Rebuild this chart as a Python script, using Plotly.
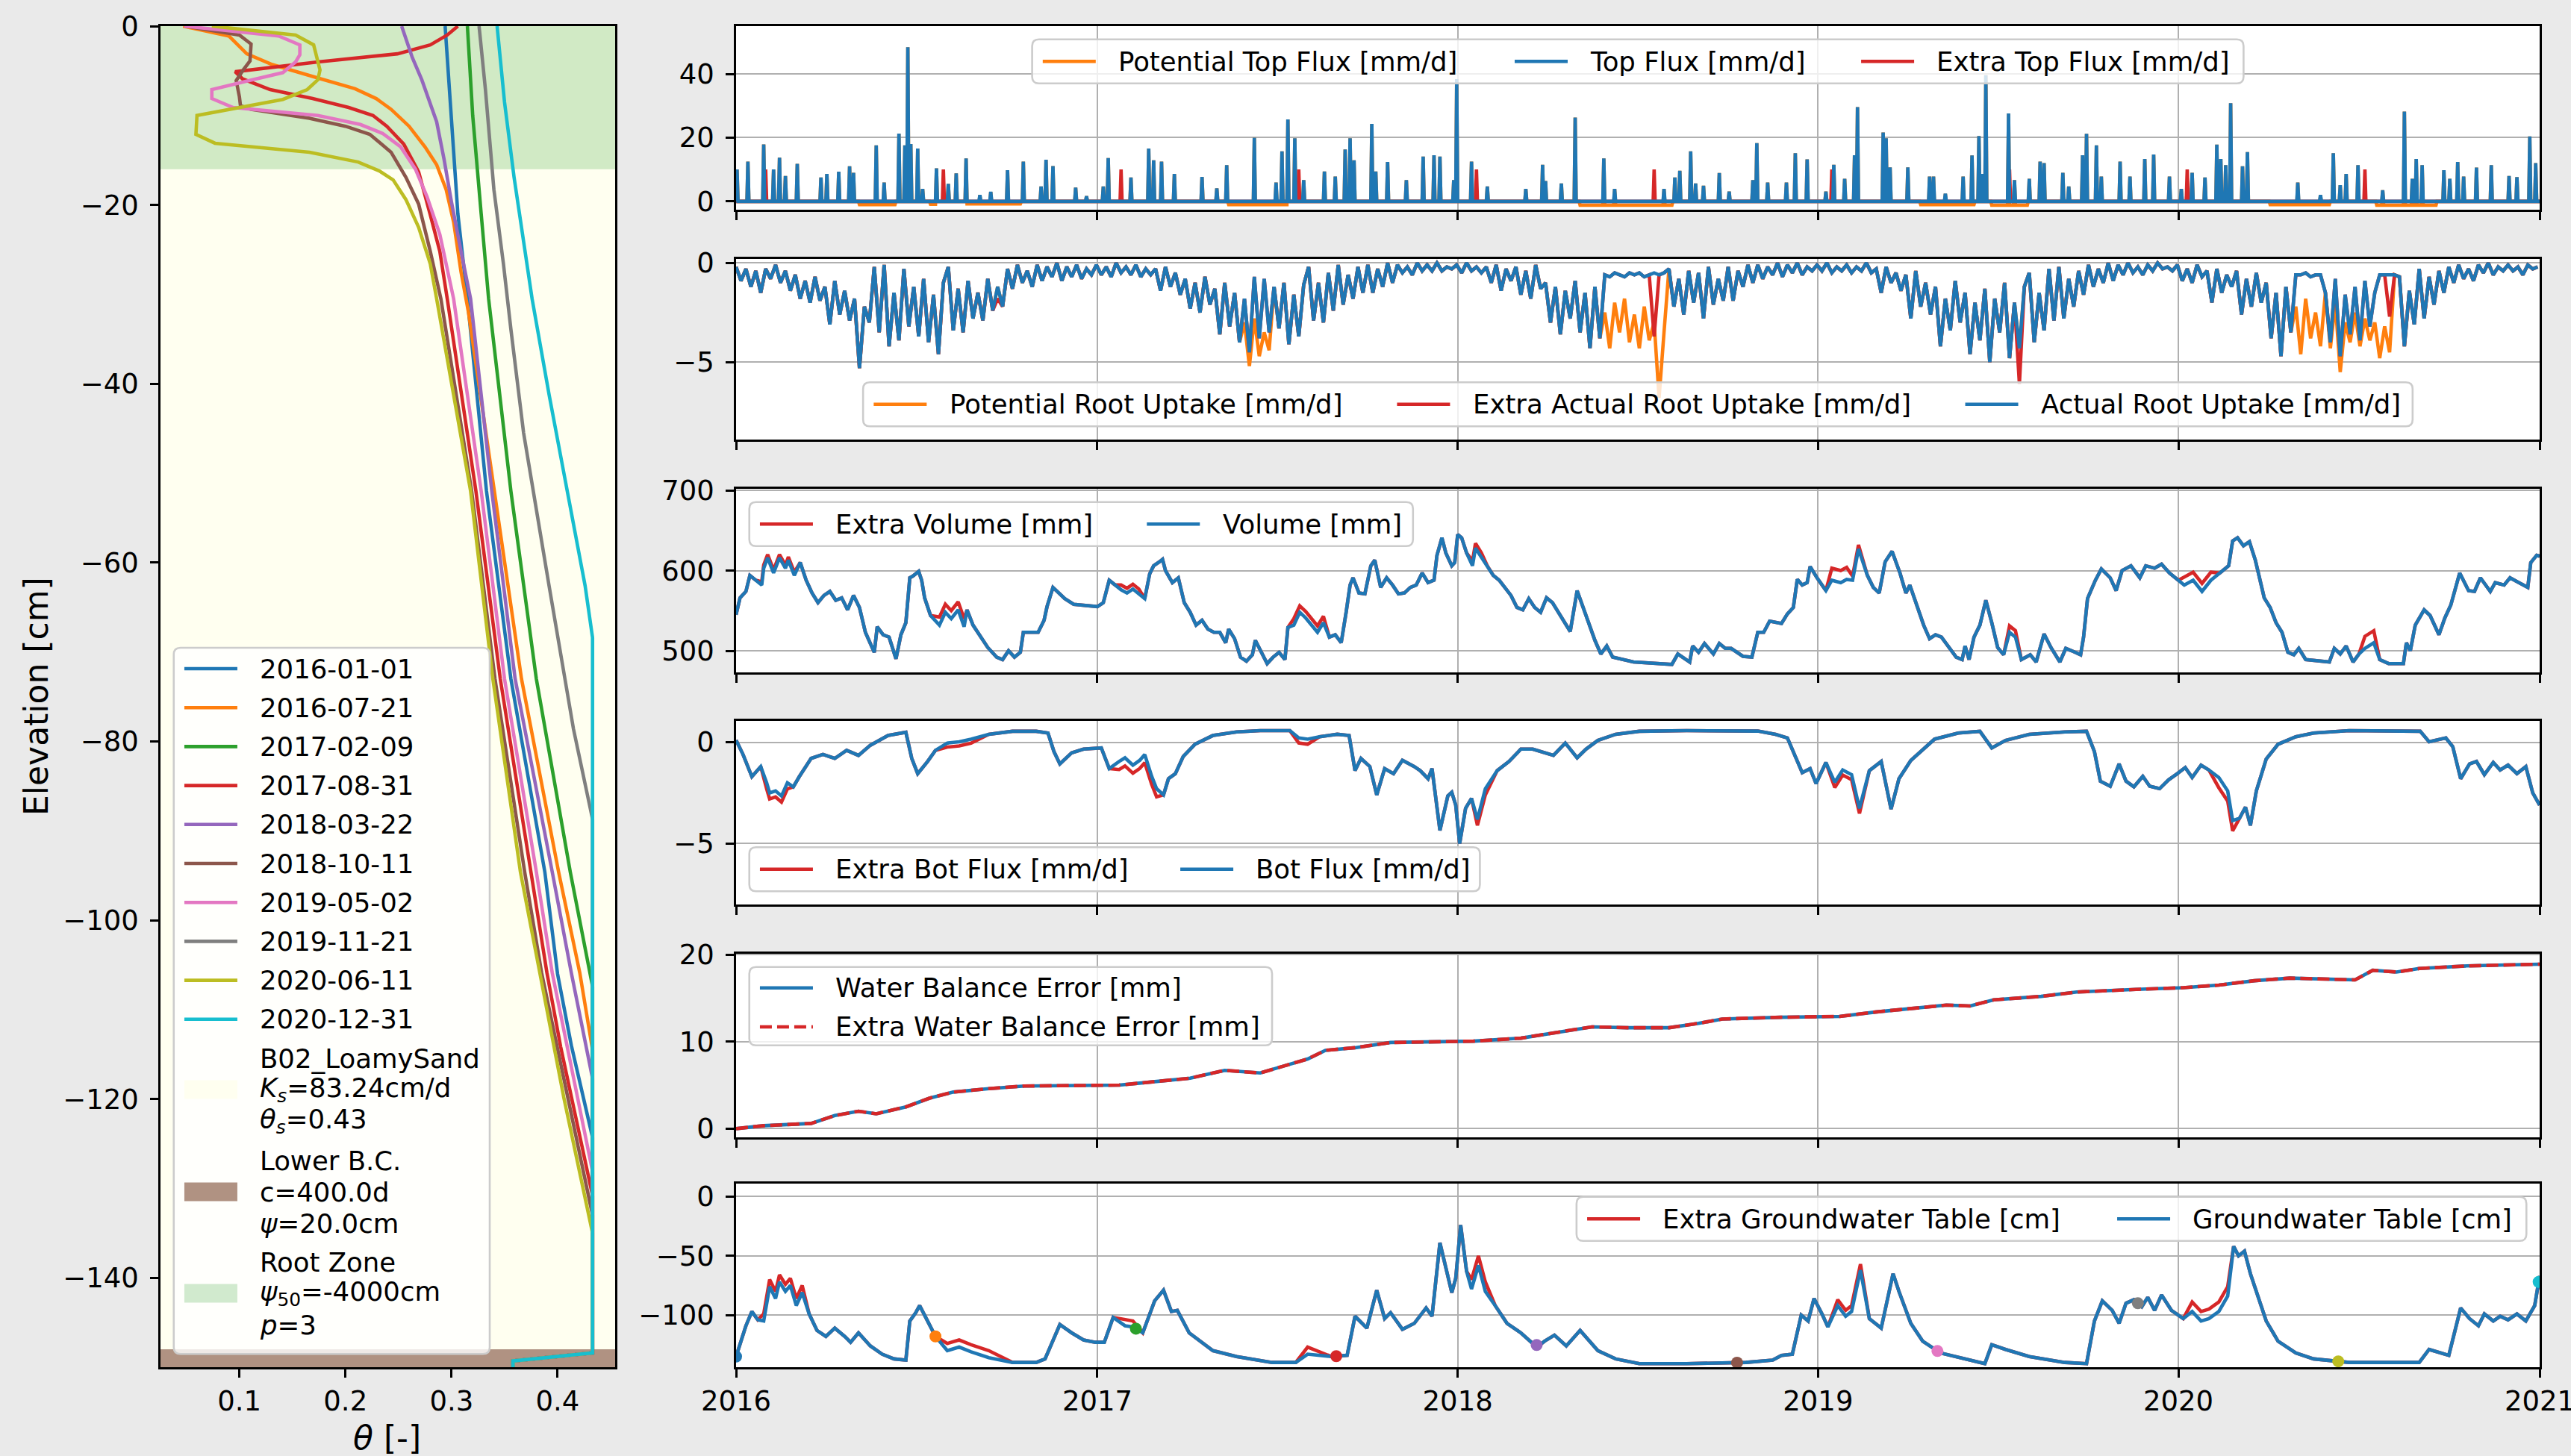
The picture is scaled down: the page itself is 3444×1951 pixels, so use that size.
import numpy as np
import pandas as pd
import plotly.graph_objects as go

START = pd.Timestamp("2016-01-01")
END = pd.Timestamp("2021-01-01")
N_DAYS = (END - START).days + 1

BLUE, ORANGE, GREEN, RED, PURPLE = "#1f77b4", "#ff7f0e", "#2ca02c", "#d62728", "#9467bd"
BROWN, PINK, GRAY, OLIVE, CYAN = "#8c564b", "#e377c2", "#7f7f7f", "#bcbd22", "#17becf"

# ---------------------------------------------------------------- profiles
profile_dates = ["2016-01-01", "2016-07-21", "2017-02-09", "2017-08-31", "2018-03-22",
                 "2018-10-11", "2019-05-02", "2019-11-21", "2020-06-11", "2020-12-31"]
profile_colors = [BLUE, ORANGE, GREEN, RED, PURPLE, BROWN, PINK, GRAY, OLIVE, CYAN]

z_2016_01_01 = [0, -10, -21, -30.5, -52, -73, -94.6, -106, -114, -124.3, -148.4, -149.3, -150]
th_2016_01_01 = [0.294, 0.300, 0.306, 0.315, 0.333, 0.356, 0.388, 0.400, 0.413, 0.433, 0.433, 0.358, 0.358]

z_2016_07_21 = [0, -1.1, -3.1, -4.3, -5.9, -7, -8.1, -9.3, -11.2, -13.5, -15.5, -18.3, -21.9, -27.5,
                -32, -52, -73, -94.6, -105.9, -114.5, -148.4, -149.3, -150]
th_2016_07_21 = [0.047, 0.090, 0.107, 0.131, 0.177, 0.209, 0.229, 0.243, 0.260, 0.275, 0.286, 0.295,
                 0.302, 0.309, 0.316, 0.340, 0.366, 0.401, 0.421, 0.433, 0.433, 0.358, 0.358]

z_2017_02_09 = [0, -10, -21, -30.5, -52, -73, -94.6, -107.4, -148.4, -149.3, -150]
th_2017_02_09 = [0.315, 0.320, 0.328, 0.335, 0.356, 0.380, 0.412, 0.433, 0.433, 0.358, 0.358]

z_2017_08_31 = [0, -1, -2.1, -3.1, -4, -5.1, -5.9, -7.1, -8.1, -9.1, -10, -11.2, -13.2, -16.3, -21.1,
                -25.2, -30.5, -52, -73, -94.6, -105.9, -114.2, -130.8, -148.4, -149.3, -150]
th_2017_08_31 = [0.306, 0.296, 0.280, 0.249, 0.174, 0.096, 0.103, 0.129, 0.169, 0.203, 0.226, 0.239,
                 0.255, 0.269, 0.280, 0.289, 0.296, 0.323, 0.346, 0.375, 0.390, 0.403, 0.433, 0.433,
                 0.358, 0.358]

z_2018_03_22 = [0, -3.5, -6, -10.7, -14.9, -19.7, -25.2, -30.5, -52, -73, -94.6, -105.9, -117.7,
                -148.4, -149.3, -150]
th_2018_03_22 = [0.253, 0.263, 0.272, 0.286, 0.293, 0.300, 0.309, 0.318, 0.338, 0.360, 0.395, 0.413,
                 0.433, 0.433, 0.358, 0.358]

z_2018_10_11 = [0, -1, -2, -3.9, -5, -6.1, -7.9, -8.9, -9.3, -10.3, -11.2, -12.1, -14.1, -16.9, -19.9,
                -25.2, -30.5, -52, -73, -94.6, -105.9, -133, -148.4, -149.3, -150]
th_2018_10_11 = [0.049, 0.100, 0.111, 0.110, 0.103, 0.097, 0.100, 0.101, 0.111, 0.166, 0.200, 0.223,
                 0.243, 0.257, 0.269, 0.280, 0.290, 0.319, 0.341, 0.369, 0.385, 0.433, 0.433, 0.358,
                 0.358]

z_2019_05_02 = [0, -1.1, -2.1, -3.2, -4, -5.2, -6.1, -7.1, -8.1, -9.1, -10, -11, -12, -13.5, -16,
                -19.1, -23.3, -30.5, -52, -73, -94.6, -105.9, -128.1, -148.4, -149.3, -150]
th_2019_05_02 = [0.048, 0.137, 0.157, 0.157, 0.153, 0.141, 0.109, 0.074, 0.074, 0.094, 0.174, 0.214,
                 0.235, 0.252, 0.266, 0.277, 0.289, 0.302, 0.328, 0.350, 0.380, 0.395, 0.433, 0.433,
                 0.358, 0.358]

z_2019_11_21 = [0, -7.1, -18.3, -26.6, -33.9, -45.5, -62.6, -78.6, -88.7, -148.4, -149.3, -150]
th_2019_11_21 = [0.326, 0.332, 0.340, 0.349, 0.356, 0.368, 0.392, 0.415, 0.433, 0.433, 0.358, 0.358]

z_2020_06_11 = [0, -1, -2.1, -4.9, -6, -7.1, -8.2, -10, -12.1, -13.1, -14.1, -15.2, -16.2, -17.2,
                -19.4, -22.5, -26.6, -30.5, -52, -73, -94.6, -105.9, -119.9, -135, -148.4, -149.3, -150]
th_2020_06_11 = [0.074, 0.153, 0.170, 0.176, 0.174, 0.164, 0.141, 0.060, 0.059, 0.077, 0.166, 0.212,
                 0.232, 0.245, 0.257, 0.269, 0.280, 0.286, 0.318, 0.339, 0.365, 0.383, 0.406, 0.433,
                 0.433, 0.358, 0.358]

z_2020_12_31 = [0, -8.5, -16.9, -25.2, -30.5, -41.2, -51.9, -62.6, -68.4, -148.4, -149.3, -150]
th_2020_12_31 = [0.343, 0.350, 0.359, 0.369, 0.376, 0.392, 0.409, 0.426, 0.433, 0.433, 0.358, 0.358]

profile_z = [z_2016_01_01, z_2016_07_21, z_2017_02_09, z_2017_08_31, z_2018_03_22,
             z_2018_10_11, z_2019_05_02, z_2019_11_21, z_2020_06_11, z_2020_12_31]
profile_theta = [th_2016_01_01, th_2016_07_21, th_2017_02_09, th_2017_08_31, th_2018_03_22,
                 th_2018_10_11, th_2019_05_02, th_2019_11_21, th_2020_06_11, th_2020_12_31]

soil_top, soil_bottom = 0.0, -150.0
root_zone_bottom = -16.0
lower_bc_top = -148.0
theta_range = [0.0256, 0.4543]

SOIL_LABEL = ["B02_LoamySand", "<i>K<sub>s</sub></i>=83.24cm/d", "<i>θ<sub>s</sub></i>=0.43"]
BC_LABEL = ["Lower B.C.", "c=400.0d", "<i>ψ</i>=20.0cm"]
ROOT_LABEL = ["Root Zone", "<i>ψ</i><sub>50</sub>=-4000cm", "<i>p</i>=3"]
SOIL_COLOR, BC_COLOR, ROOT_COLOR = "#fffff0", "#b09282", "rgba(44,160,44,0.22)"

# ---------------------------------------------------------------- top flux [mm/d]
rain_day = [1, 12, 28, 38, 44, 50, 62, 86, 92, 104, 115, 119, 142, 150, 165, 171, 174, 177, 184, 189,
            203, 215, 223, 233, 247, 258, 275, 291, 309, 314, 321, 344, 355, 372, 377, 400, 418, 423,
            431, 444, 472, 487, 497, 525, 547, 553, 559, 566, 575, 596, 607, 617, 622, 626, 644, 648,
            660, 679, 696, 707, 713, 727, 730, 745, 761, 800, 817, 820, 836, 850, 879, 890,
            940, 951, 956, 967, 972, 980, 996, 1006, 1030, 1034, 1045, 1064, 1073, 1085, 1104, 1112,
            1123, 1133, 1136, 1162, 1165, 1169, 1187, 1209, 1213, 1225, 1243, 1252, 1259, 1262, 1266,
            1289, 1295, 1310, 1321, 1325, 1344, 1350, 1364, 1368, 1378, 1383, 1402, 1412, 1427, 1436,
            1452, 1464, 1475, 1488, 1500, 1504, 1509, 1514, 1526, 1531, 1582, 1605, 1618, 1625, 1631,
            1643, 1668, 1690, 1698, 1702, 1708, 1730, 1736, 1744, 1750, 1763, 1778, 1796, 1804, 1817,
            1823]
rain_mm = [10, 12.5, 17.9, 10, 13.7, 8, 11.8, 7.5, 8.6, 9.3, 11, 9, 17.6, 5.9, 21.3, 17.6, 48.4, 18,
           16.6, 3.9, 10.4, 5.5, 8.8, 13.5, 2, 3, 9.8, 12.5, 4.7, 13.1, 11.1, 4.3, 1.6, 4.7, 13.6, 7.5,
           16.6, 12.9, 12.5, 8.6, 7.7, 4.1, 11.4, 20, 5.9, 15.7, 25.7, 19.8, 6.7, 9.4, 7.8, 16.3, 19.8,
           12.9, 24.3, 9.4, 12.4, 6.7, 14.1, 14.5, 14.1, 6.7, 38.4, 12.5, 4.7, 3.9, 11.5, 6.4, 5.6,
           26.3, 13.5, 3.9,
           3.9, 7.5, 9.6, 15.7, 5.6, 4.9, 8.9, 3.1, 6.7, 18.3, 5.9, 5.9, 15.1, 13.2, 3.1, 11.5, 7.1,
           14.5, 29.6, 21.6, 19.8, 10.7, 10.7, 7.8, 7.8, 2.4, 7.8, 14.4, 20.5, 8.6, 39.6, 27.6, 6.7,
           7.1, 12.5, 12, 9, 4.7, 14.5, 21.2, 17.6, 7.8, 12.5, 7.8, 13.3, 14.7, 7.8, 3.9, 9, 7.5, 17.8,
           13.3, 11.4, 30.8, 11, 15.5, 5.9, 2, 15.1, 5.1, 8.6, 11.4, 3.5, 28.2, 7.1, 13.3, 11.4, 9.8,
           7.1, 12.4, 7.8, 10.6, 11.4, 8, 7.6, 20.4, 12]
extra_top_day = [30, 210, 390, 570, 750, 930, 1110, 1290, 1470, 1650]
extra_top_mm = [10, 10, 10, 10, 10, 10, 10, 10, 10, 10]
# dry spells where potential evaporation exceeds the supply: (first day, last day, mm/d)
dry_spells = [(125, 161, 1.0), (197, 203, 0.9), (234, 288, 0.8), (499, 559, 1.0), (855, 948, 1.2),
              (1200, 1254, 1.0), (1272, 1308, 1.2), (1554, 1614, 1.0), (1662, 1722, 1.2)]

# ---------------------------------------------------------------- root uptake [mm/d], 5-day steps
uptake_2016 = [-0.2, -0.9, -0.3, -1.2, -0.4, -1.5, -0.3, -0.8, -0.1, -1.0, -0.4, -1.4,
               -0.6, -1.8, -0.9, -2.0, -0.7, -1.9, -1.2, -3.1, -0.9, -2.6, -1.4, -2.9,
               -1.8, -5.3, -2.2, -3.0, -0.2, -3.5, -0.1, -4.2, -1.5, -3.9, -0.3, -3.2,
               -1.2, -3.7, -0.8, -4.0, -1.6, -4.6, -1.0, -0.2, -3.4, -1.3, -3.5, -0.9, -2.8,
               -1.5, -2.9, -0.8, -2.4, -1.2, -2.2, -0.3, -1.3, -0.1, -1.0, -0.4, -1.2,
               -0.1, -0.9, -0.2, -0.7, 0.0, -0.9, -0.2, -0.7, -0.1, -0.8, -0.3, -0.6]
uptake_2017 = [-0.1, -0.6, -0.2, -0.7, 0.0, -0.5, -0.2, -0.6, -0.1, -0.7, -0.3, -0.6,
               -0.3, -1.4, -0.2, -1.2, -0.5, -1.6, -0.8, -2.3, -1.0, -2.5, -0.7, -2.1,
               -1.3, -3.6, -1.0, -3.2, -1.5, -4.0, -1.8, -4.5, -0.7, -3.8, -0.8, -3.5,
               -1.2, -3.3, -1.0, -4.1, -1.6, -3.7, -1.1, -0.2, -2.9, -1.0, -3.0, -0.5, -2.4,
               -0.1, -2.1, -0.6, -1.8, -0.2, -1.5, -0.1, -1.5, -0.3, -1.2, 0.0, -1.0,
               -0.1, -0.5, -0.2, -0.6, 0.0, -0.4, -0.1, -0.4, 0.0, -0.4, -0.2, -0.3]
uptake_2018 = [-0.1, -0.5, 0.0, -0.4, -0.2, -0.5, -0.2, -1.0, -0.1, -1.4, -0.3, -0.9,
               -0.2, -1.6, -0.4, -1.8, -0.1, -1.3, -1.0, -3.0, -1.2, -3.6, -1.4, -2.8,
               -0.9, -3.5, -1.5, -4.3, -1.2, -3.8, -0.6, -0.7, -0.5, -0.6, -0.7, -0.5,
               -0.6, -0.5, -0.7, -0.6, -0.5, -0.6, -0.5, -0.3, -2.2, -0.8, -2.6, -0.4, -2.0,
               -0.5, -2.8, -0.2, -2.1, -0.8, -1.9, -0.2, -1.9, -0.4, -1.2, -0.1, -1.0,
               -0.1, -0.8, -0.2, -0.6, 0.0, -0.7, -0.1, -0.5, 0.0, -0.6, -0.2, -0.4]
uptake_2019 = [-0.1, -0.4, 0.0, -0.5, -0.2, -0.4, -0.1, -0.5, -0.2, -0.4, 0.0, -0.5,
               -0.3, -1.5, -0.2, -1.0, -0.5, -1.4, -0.6, -2.8, -0.4, -2.2, -1.0, -2.6,
               -1.2, -4.2, -1.8, -3.4, -0.9, -3.0, -1.5, -4.6, -2.0, -3.9, -1.3, -5.0,
               -1.8, -3.5, -1.0, -4.8, -2.0, -4.3, -1.2, -0.5, -4.0, -1.5, -3.4, -0.3, -2.9,
               -0.2, -2.8, -0.8, -2.2, -0.4, -1.6, -0.1, -1.2, -0.3, -1.0, 0.0, -0.9,
               -0.1, -0.6, 0.0, -0.5, -0.2, -0.6, -0.1, -0.4, 0.0, -0.3, -0.2, -0.4]
uptake_2020 = [-0.1, -0.9, -0.3, -1.0, -0.1, -0.7, -0.4, -2.0, -0.3, -1.5, -0.6, -1.2,
               -0.4, -2.6, -0.8, -2.2, -0.5, -2.0, -1.0, -3.8, -1.5, -4.7, -1.2, -3.5,
               -0.6, -0.6, -0.5, -0.7, -0.6, -0.6, -1.5, -4.0, -0.8, -4.7, -1.6, -3.6,
               -1.2, -3.9, -0.9, -3.2, -1.5, -0.6, -0.6, -0.6, -0.6, -0.7, -4.2, -1.4, -3.1,
               -0.3, -2.8, -0.7, -2.1, -0.4, -1.5, -0.2, -1.0, -0.1, -0.8, -0.3, -0.9,
               -0.1, -0.5, 0.0, -0.6, -0.2, -0.4, -0.1, -0.4, -0.2, -0.6, -0.1, -0.3, -0.2]
pot_uptake_day = [515, 520, 525, 530, 535, 540,
                  875, 880, 885, 890, 895, 900, 905, 910, 915, 920, 925, 930, 935, 940,
                  1580, 1585, 1590, 1595, 1600, 1605, 1615, 1620, 1625, 1630, 1635,
                  1640, 1645, 1650, 1655, 1660, 1665, 1670, 1675]
pot_uptake_mm = [-3.0, -5.2, -2.8, -4.7, -3.5, -4.4,
                 -3.8, -2.5, -4.3, -2.0, -3.5, -1.8, -4.0, -2.6, -4.3, -2.2, -3.9, -3.0, -6.8, -3.5,
                 -2.2, -4.6, -1.8, -3.8, -2.5, -4.2, -4.3, -2.0, -5.5, -3.0, -4.0,
                 -2.5, -4.2, -2.8, -3.9, -3.0, -4.8, -3.2, -4.5]
extra_uptake_day = [265, 930, 1300, 1675]
extra_uptake_mm = [-1.8, -3.7, -6.1, -2.7]

# ---------------------------------------------------------------- storage volume [mm]
vol_day = [0, 4, 10, 14, 20, 26, 28, 32, 38, 44, 50, 53, 59, 65, 71, 77, 83, 89, 95, 101, 107, 113,
           119, 125, 131, 140, 143, 149, 155, 162, 167, 172, 176, 179, 185, 188, 191, 197, 206, 212,
           218, 225, 231, 234, 240, 246, 255, 264, 270, 276, 282, 288, 291, 300, 306, 312, 315, 321,
           327, 333, 342, 354, 366, 372, 378, 384, 390, 396, 402, 408, 414, 419, 423, 429, 432, 435,
           442, 448, 454, 460, 466, 472, 478, 484, 490, 496, 499, 505, 511, 517, 523, 526, 532, 538,
           544, 550, 556, 559, 565, 571, 577, 583, 589, 595, 601, 607, 613, 618, 622, 625, 631, 637,
           643, 647, 653, 659, 665, 671, 677, 683, 689, 695, 701, 707, 710, 715, 719, 725, 728, 731,
           735, 740, 746, 749, 755, 761, 767, 773, 779, 785, 791, 797, 803, 809, 815, 821, 827, 833,
           839, 845, 852, 858, 864, 870, 876, 882, 888, 897, 909,
           948, 954, 966, 969, 975, 981, 990, 996, 1002, 1008, 1020, 1029, 1035, 1041, 1047, 1059,
           1065, 1071, 1075, 1080, 1085, 1088, 1095, 1104, 1110, 1119, 1125, 1131, 1137, 1146, 1152,
           1158, 1164, 1171, 1179, 1185, 1189, 1197, 1203, 1209, 1215, 1221, 1230, 1236, 1242, 1245,
           1249, 1254, 1260, 1266, 1272, 1278, 1284, 1290, 1296, 1302, 1311, 1317, 1325, 1332, 1341,
           1347, 1353, 1362, 1365, 1369, 1377, 1383, 1392, 1398, 1404, 1413, 1422, 1428, 1437, 1444,
           1452, 1461, 1467, 1476, 1485, 1494, 1503, 1512, 1516, 1521, 1527, 1533, 1539, 1548, 1554,
           1560, 1566, 1572, 1578, 1583, 1590, 1602, 1614, 1619, 1625, 1631, 1638, 1644, 1650, 1659,
           1665, 1674, 1689, 1692, 1696, 1701, 1710, 1716, 1725, 1731, 1737, 1746, 1755, 1761, 1767,
           1777, 1782, 1791, 1797, 1806, 1815, 1818, 1824, 1827]
vol_mm = [545, 566, 574, 594, 588, 582, 603, 616, 597, 616, 603, 613, 594, 610, 588, 572, 560, 569,
          574, 563, 566, 551, 569, 554, 523, 498, 530, 520, 517, 490, 520, 535, 591, 593, 599, 588,
          566, 544, 532, 548, 540, 551, 530, 551, 532, 520, 504, 492, 489, 500, 492, 498, 523, 523,
          523, 538, 555, 579, 572, 565, 558, 557, 555, 560, 588, 582, 576, 572, 577, 571, 565, 596,
          606, 611, 614, 600, 585, 591, 560, 548, 532, 538, 527, 523, 523, 510, 527, 515, 492, 487,
          495, 513, 498, 484, 492, 498, 489, 529, 532, 548, 541, 532, 523, 535, 517, 520, 510, 548,
          582, 591, 572, 571, 606, 613, 579, 591, 582, 571, 572, 579, 582, 597, 585, 588, 619, 641,
          622, 606, 610, 645, 641, 622, 606, 628, 616, 606, 594, 588, 579, 569, 554, 551, 565, 554,
          548, 566, 560, 548, 538, 524, 575, 554, 532, 513, 496, 506, 492, 489, 486,
          483, 496, 486, 506, 498, 509, 496, 509, 503, 503, 493, 492, 523, 523, 537, 534, 546, 554,
          589, 582, 585, 605, 591, 575, 588, 585, 589, 588, 627, 594, 579, 572, 611, 624, 597, 572,
          582, 554, 532, 515, 520, 517, 501, 492, 489, 506, 489, 517, 532, 563, 535, 504, 495, 523,
          517, 489, 495, 486, 521, 504, 486, 503, 500, 495, 517, 565, 588, 602, 591, 575, 600, 606,
          591, 606, 603, 608, 597, 588, 582, 588, 574, 588, 597, 606, 637, 641, 631, 636, 613, 566,
          554, 535, 523, 498, 495, 503, 489, 487, 486, 503, 496, 506, 486, 496, 503, 510, 489, 484,
          484, 510, 500, 532, 551, 544, 520, 541, 557, 597, 575, 574, 591, 574, 585, 582, 591, 585,
          579, 610, 619, 618]
# periods where the extra run holds more water: (first day, last day, mm above the base run)
vol_extra_shift = [(25, 60, 4), (205, 232, 10), (385, 412, 6), (565, 600, 8), (745, 760, 6),
                   (1108, 1128, 15), (1129, 1145, 5), (1288, 1300, 8), (1465, 1495, 10),
                   (1648, 1662, 15)]

# ---------------------------------------------------------------- bottom flux [mm/d]
bot_day = [0, 7, 16, 25, 31, 34, 40, 46, 52, 58, 64, 76, 88, 100, 112, 124, 136, 154, 172, 178,
           184, 194, 202, 214, 226, 238, 256, 280, 304, 316, 322, 328, 340, 352, 370, 378, 388, 394,
           402, 409, 414, 421, 426, 433, 438, 445, 453, 465, 483, 507, 531, 561, 570, 579, 591, 609,
           621, 627, 633, 642, 649, 657, 666, 675, 687, 693, 701, 705, 713, 721, 725, 729, 733, 739,
           745, 751, 759, 771, 783, 795, 807, 819, 828, 840, 852, 861, 873, 891, 915, 963, 1035,
           1053, 1065, 1073, 1080, 1088, 1094, 1104, 1113, 1121, 1130, 1138, 1148, 1160, 1170, 1178,
           1190, 1214, 1238, 1260, 1272, 1286, 1310, 1346, 1368, 1376, 1382, 1392, 1401, 1408, 1416,
           1425, 1432, 1442, 1451, 1460, 1468, 1475, 1484, 1492, 1502, 1511, 1516, 1523, 1529, 1534,
           1540, 1550, 1562, 1580, 1598, 1634, 1670, 1706, 1715, 1723, 1732, 1739, 1747, 1756, 1763,
           1771, 1780, 1787, 1795, 1804, 1813, 1820, 1827]
bot_mm = [0.1, -0.6, -1.7, -1.2, -2.0, -2.5, -2.4, -2.65, -2.0, -2.2, -1.7, -0.8, -0.6, -0.8, -0.4,
          -0.65, -0.15, 0.33, 0.49, -0.8, -1.55, -0.95, -0.4, -0.04, 0.02, 0.15, 0.39, 0.54, 0.54,
          0.45, -0.46, -1.07, -0.52, -0.34, -0.28, -1.3, -0.95, -0.77, -1.13, -0.89, -0.61, -1.68,
          -2.29, -2.6, -1.8, -1.55, -0.7, -0.1, 0.33, 0.51, 0.57, 0.57, 0.21, 0.15, 0.27, 0.39, 0.33,
          -1.4, -0.8, -1.2, -2.6, -1.3, -1.55, -0.89, -1.2, -1.4, -1.8, -1.3, -4.35, -2.65, -2.47,
          -3.1, -5.0, -3.26, -2.77, -3.8, -2.3, -1.4, -0.95, -0.34, -0.34, -0.52, -0.65, -0.04,
          -0.77, -0.34, 0.09, 0.39, 0.54, 0.57, 0.55, 0.39, 0.21, -0.7, -1.5, -1.3, -2.04, -1.0,
          -1.98, -1.37, -1.6, -3.26, -1.4, -0.95, -3.3, -1.8, -0.9, 0.15, 0.45, 0.54, -0.28, 0.09,
          0.39, 0.51, 0.54, -0.46, -1.92, -2.17, -1.07, -1.92, -2.2, -1.68, -2.17, -2.29, -1.86,
          -1.55, -1.25, -1.74, -1.13, -1.37, -1.74, -2.4, -3.87, -3.75, -3.2, -4.1, -2.4, -0.83,
          -0.1, 0.27, 0.45, 0.57, 0.54, 0.54, 0.02, 0.09, 0.21, -0.22, -1.8, -1.07, -0.95, -1.6,
          -1.0, -1.37, -1.13, -1.55, -1.2, -2.5, -3.1]
bot_extra_shift = [(28, 52, -0.3), (214, 238, -0.2), (388, 426, -0.4), (570, 580, -0.25),
                   (747, 759, -0.3), (1113, 1138, -0.25), (1502, 1520, -0.5)]

# ---------------------------------------------------------------- cumulative water balance error [mm]
wbe_day = [0, 28, 76, 100, 124, 142, 172, 196, 220, 256, 292, 340, 388, 424, 460, 495, 531, 555,
           579, 597, 627, 663, 699, 747, 795, 831, 867, 903, 945, 975, 999, 1058, 1118, 1154, 1190,
           1226, 1250, 1274, 1322, 1358, 1418, 1466, 1502, 1538, 1574, 1610, 1640, 1658, 1682, 1705,
           1753, 1827]
wbe_mm = [0, 0.34, 0.6, 1.5, 2.0, 1.7, 2.5, 3.5, 4.2, 4.6, 4.9, 4.95, 5.0, 5.4, 5.8, 6.7, 6.4, 7.2,
          8.0, 9.0, 9.3, 9.9, 9.95, 10.05, 10.4, 11.0, 11.7, 11.6, 11.6, 12.1, 12.6, 12.8, 12.9, 13.4,
          13.8, 14.2, 14.1, 14.8, 15.2, 15.7, 16.0, 16.2, 16.5, 17.0, 17.3, 17.2, 17.1, 18.2, 18.0,
          18.4, 18.7, 18.9]

# ---------------------------------------------------------------- groundwater table [cm]
gwt_day = [0, 4, 10, 16, 22, 28, 34, 40, 44, 50, 55, 61, 67, 74, 82, 91, 100, 110, 116, 124,
           136, 148, 160, 172, 176, 182, 186, 194, 202, 214, 226, 238, 256, 280, 304, 313, 322, 328,
           340, 352, 364, 373, 382, 394, 402, 412, 424, 433, 441, 447, 459, 483, 507, 543, 567, 579,
           603, 619, 627, 639, 649, 657, 663, 675, 687, 699, 705, 713, 721, 725, 729, 734, 740, 745,
           752, 759, 769, 781, 795, 807, 813, 819, 829, 841, 855, 873, 891, 915, 963, 1023, 1050,
           1059, 1070, 1079, 1086, 1092, 1100, 1106, 1116, 1124, 1130, 1139, 1148, 1160, 1172, 1178,
           1190, 1202, 1220, 1250, 1265, 1272, 1286, 1310, 1346, 1368, 1376, 1384, 1394, 1401, 1408,
           1416, 1424, 1430, 1437, 1444, 1454, 1466, 1475, 1484, 1492, 1502, 1511, 1517, 1522, 1528,
           1534, 1540, 1550, 1562, 1580, 1598, 1634, 1682, 1705, 1715, 1723, 1735, 1747, 1756, 1765,
           1771, 1780, 1787, 1795, 1804, 1813, 1822, 1827]
gwt_cm = [-135, -124, -109, -97, -104, -105, -76, -86, -72, -80, -75, -92, -81, -99, -113, -118,
          -111, -118, -123, -115, -126, -133, -137, -138, -105, -98, -92, -105, -118, -130, -127,
          -131, -136, -140, -140, -137, -120, -108, -115, -121, -123, -123, -102, -109, -110, -115,
          -88, -79, -97, -96, -115, -130, -135, -140, -140, -133, -135, -134, -101, -111, -79, -103,
          -98, -112, -107, -94, -101, -39, -67, -81, -69, -24, -63, -78, -58, -80, -92, -107, -115,
          -124, -126, -122, -117, -126, -113, -130, -137, -141, -141, -140, -138, -134, -133, -100,
          -105, -86, -99, -110, -92, -101, -97, -62, -103, -111, -65, -80, -107, -122, -132, -138,
          -141, -125, -129, -135, -140, -141, -105, -88, -96, -107, -90, -87, -93, -85, -96, -83,
          -96, -103, -97, -105, -103, -97, -84, -42, -50, -46, -65, -80, -105, -122, -132, -137,
          -140, -140, -140, -129, -131, -134, -94, -103, -109, -99, -105, -101, -104, -99, -105,
          -92, -67]
gwt_extra_shift = [(28, 70, 6), (214, 262, 6), (388, 406, 5), (573, 600, 6), (745, 760, 8),
                   (1113, 1143, 5), (1472, 1514, 8)]


# ================================================================ helpers
def as_dates(days):
    return START + pd.to_timedelta(np.asarray(days, dtype=float), unit="D")


def shifted(days, values, windows):
    days = np.asarray(days, dtype=float)
    out = np.asarray(values, dtype=float).copy()
    for first, last, delta in windows:
        out[(days >= first) & (days <= last)] += delta
    return out


def replaced(days, values, fix_days, fix_values):
    out = np.asarray(values, dtype=float).copy()
    lookup = {d: i for i, d in enumerate(days)}
    for d, v in zip(fix_days, fix_values):
        out[lookup[d]] = v
    return out


daily_dates = as_dates(np.arange(N_DAYS))

top_flux = np.zeros(N_DAYS)
top_flux[rain_day] = rain_mm
extra_top_flux = np.zeros(N_DAYS)
extra_top_flux[extra_top_day] = extra_top_mm
potential_top_flux = top_flux.copy()
for first, last, evap in dry_spells:
    seg = potential_top_flux[first:last + 1]
    potential_top_flux[first:last + 1] = np.where(seg == 0, -evap, seg)

uptake = np.array(uptake_2016 + uptake_2017 + uptake_2018 + uptake_2019 + uptake_2020)
uptake_day = list(range(0, 5 * len(uptake), 5))
pot_uptake = replaced(uptake_day, uptake, pot_uptake_day, pot_uptake_mm)
extra_uptake = replaced(uptake_day, uptake, extra_uptake_day, extra_uptake_mm)

vol_extra = shifted(vol_day, vol_mm, vol_extra_shift)
bot_extra = shifted(bot_day, bot_mm, bot_extra_shift)
gwt_extra = shifted(gwt_day, gwt_cm, gwt_extra_shift)

profile_day = [(pd.Timestamp(d) - START).days for d in profile_dates]
profile_gwt = np.interp(profile_day, gwt_day, gwt_cm)

# ================================================================ figure
W, H = 3444, 1951
LW = 4.6
FONT = "DejaVu Sans"
TICK_FONT = 37
EM = 35.5          # legend font size in px
DASH = "16px,7px"


def px_x(v):
    return v / W


def px_y(v):
    return 1 - v / H


fig = go.Figure()

# ---- left panel: soil column background and moisture profiles
box_x = [theta_range[0], theta_range[1], theta_range[1], theta_range[0], theta_range[0]]
for y_top, y_bot, color in [(soil_top, soil_bottom, SOIL_COLOR),
                            (lower_bc_top, soil_bottom, BC_COLOR),
                            (soil_top, root_zone_bottom, ROOT_COLOR)]:
    fig.add_trace(go.Scatter(x=box_x, y=[y_top, y_top, y_bot, y_bot, y_top], fill="toself",
                             fillcolor=color, line=dict(width=0), mode="lines",
                             hoverinfo="skip", xaxis="x", yaxis="y"))
for color, zz, th in zip(profile_colors, profile_z, profile_theta):
    fig.add_trace(go.Scatter(x=th, y=zz, mode="lines", line=dict(color=color, width=LW),
                             xaxis="x", yaxis="y"))

# ---- panel 1: top flux
fig.add_trace(go.Scatter(x=daily_dates, y=potential_top_flux, mode="lines",
                         line=dict(color=ORANGE, width=LW), xaxis="x2", yaxis="y2"))
fig.add_trace(go.Scatter(x=daily_dates, y=extra_top_flux, mode="lines",
                         line=dict(color=RED, width=LW), xaxis="x2", yaxis="y2"))
fig.add_trace(go.Scatter(x=daily_dates, y=top_flux, mode="lines",
                         line=dict(color=BLUE, width=LW), xaxis="x2", yaxis="y2"))

# ---- panel 2: root water uptake
up_dates = as_dates(uptake_day)
for series, color in [(pot_uptake, ORANGE), (extra_uptake, RED), (uptake, BLUE)]:
    fig.add_trace(go.Scatter(x=up_dates, y=series, mode="lines", line=dict(color=color, width=LW),
                             xaxis="x3", yaxis="y3"))

# ---- panel 3: storage volume
fig.add_trace(go.Scatter(x=as_dates(vol_day), y=vol_extra, mode="lines",
                         line=dict(color=RED, width=LW), xaxis="x4", yaxis="y4"))
fig.add_trace(go.Scatter(x=as_dates(vol_day), y=vol_mm, mode="lines",
                         line=dict(color=BLUE, width=LW), xaxis="x4", yaxis="y4"))

# ---- panel 4: bottom flux
fig.add_trace(go.Scatter(x=as_dates(bot_day), y=bot_extra, mode="lines",
                         line=dict(color=RED, width=LW), xaxis="x5", yaxis="y5"))
fig.add_trace(go.Scatter(x=as_dates(bot_day), y=bot_mm, mode="lines",
                         line=dict(color=BLUE, width=LW), xaxis="x5", yaxis="y5"))

# ---- panel 5: water balance error
fig.add_trace(go.Scatter(x=as_dates(wbe_day), y=wbe_mm, mode="lines",
                         line=dict(color=BLUE, width=LW), xaxis="x6", yaxis="y6"))
fig.add_trace(go.Scatter(x=as_dates(wbe_day), y=wbe_mm, mode="lines",
                         line=dict(color=RED, width=LW, dash=DASH), xaxis="x6", yaxis="y6"))

# ---- panel 6: groundwater table with profile dates marked
fig.add_trace(go.Scatter(x=as_dates(gwt_day), y=gwt_extra, mode="lines",
                         line=dict(color=RED, width=LW), xaxis="x7", yaxis="y7"))
fig.add_trace(go.Scatter(x=as_dates(gwt_day), y=gwt_cm, mode="lines",
                         line=dict(color=BLUE, width=LW), xaxis="x7", yaxis="y7"))
fig.add_trace(go.Scatter(x=as_dates(profile_day), y=profile_gwt, mode="markers",
                         marker=dict(color=profile_colors, size=16), xaxis="x7", yaxis="y7"))

# ================================================================ legends (drawn in pixel space)
GLYPH_EM = {
    " ": 0.318, "-": 0.361, ".": 0.318, "/": 0.337, "[": 0.39, "]": 0.39, "_": 0.5, "=": 0.838,
    "0": 0.636, "1": 0.636, "2": 0.636, "3": 0.636, "4": 0.636, "5": 0.636, "6": 0.636,
    "7": 0.636, "8": 0.636, "9": 0.636,
    "A": 0.684, "B": 0.686, "C": 0.698, "D": 0.77, "E": 0.632, "F": 0.575, "G": 0.775, "H": 0.752,
    "L": 0.557, "P": 0.603, "R": 0.695, "S": 0.635, "T": 0.611, "U": 0.732, "V": 0.684, "W": 0.989,
    "Z": 0.685, "a": 0.613, "b": 0.635, "c": 0.55, "d": 0.635, "e": 0.615, "f": 0.352, "g": 0.635,
    "h": 0.634, "i": 0.278, "k": 0.579, "l": 0.278, "m": 0.974, "n": 0.634, "o": 0.612, "p": 0.635,
    "r": 0.411, "s": 0.521, "t": 0.392, "u": 0.634, "v": 0.592, "w": 0.818, "x": 0.592, "y": 0.592,
}


def text_px(s):
    return EM * sum(GLYPH_EM.get(c, 0.6) for c in s)


HANDLE, HPAD, COLSP, BPAD = 2.0 * EM, 0.8 * EM, 2.0 * EM, 0.4 * EM
ROW_H = 59.0        # single-row legend box height
ROW_PITCH = 52.2    # distance between stacked rows
LINE_PITCH = 42.0   # line spacing inside a multi-line label

shapes, annotations = [], []


def add_frame(x0, y0, x1, y1, r=9.0):
    X0, X1, Y0, Y1 = px_x(x0), px_x(x1), px_y(y0), px_y(y1)
    rx, ry = r / W, r / H
    path = (f"M {X0 + rx},{Y0} L {X1 - rx},{Y0} Q {X1},{Y0} {X1},{Y0 - ry} "
            f"L {X1},{Y1 + ry} Q {X1},{Y1} {X1 - rx},{Y1} L {X0 + rx},{Y1} "
            f"Q {X0},{Y1} {X0},{Y1 + ry} L {X0},{Y0 - ry} Q {X0},{Y0} {X0 + rx},{Y0} Z")
    shapes.append(dict(type="path", path=path, xref="paper", yref="paper", layer="above",
                       fillcolor="rgba(255,255,255,0.8)", line=dict(color="#cccccc", width=2.6)))


def add_entry(x0, yc, style, lines):
    kind, color, dash = style
    if kind == "line":
        shapes.append(dict(type="line", xref="paper", yref="paper", layer="above",
                           x0=px_x(x0), x1=px_x(x0 + HANDLE), y0=px_y(yc), y1=px_y(yc),
                           line=dict(color=color, width=LW, dash=dash)))
    else:
        half = 0.35 * EM
        shapes.append(dict(type="rect", xref="paper", yref="paper", layer="above",
                           x0=px_x(x0), x1=px_x(x0 + HANDLE), y0=px_y(yc + half),
                           y1=px_y(yc - half), fillcolor=color, line=dict(width=0)))
    n = len(lines)
    for i, txt in enumerate(lines):
        y = yc + (i - (n - 1) / 2) * LINE_PITCH
        annotations.append(dict(text=txt, x=px_x(x0 + HANDLE + HPAD), y=px_y(y), xref="paper",
                                yref="paper", xanchor="left", yanchor="middle", showarrow=False,
                                font=dict(size=EM, family=FONT, color="black")))


def row_legend(entries, anchor_x, x_mode, top):
    widths = [HANDLE + HPAD + text_px(lbl) for lbl, _ in entries]
    box_w = sum(widths) + COLSP * (len(entries) - 1) + 2 * BPAD
    left = {"left": anchor_x, "center": anchor_x - box_w / 2, "right": anchor_x - box_w}[x_mode]
    add_frame(left, top, left + box_w, top + ROW_H)
    x = left + BPAD
    for (lbl, style), w in zip(entries, widths):
        add_entry(x, top + ROW_H / 2, style, [lbl])
        x += w + COLSP


def column_legend(entries, left, centers, top, bottom, label_width):
    add_frame(left, top, left + 2 * BPAD + HANDLE + HPAD + label_width, bottom)
    for (lines, style), yc in zip(entries, centers):
        add_entry(left + BPAD, yc, style, lines)


AX_LEFT, AX_RIGHT = 215, 824
R_LEFT, R_RIGHT = 986, 3402
R_MID = (R_LEFT + R_RIGHT) / 2
PAD_AX = 0.5 * EM
panel_px = [(35, 281), (347, 589), (655, 901), (966, 1212), (1278, 1524), (1586, 1832)]

row_legend([("Potential Top Flux [mm/d]", ("line", ORANGE, None)),
            ("Top Flux [mm/d]", ("line", BLUE, None)),
            ("Extra Top Flux [mm/d]", ("line", RED, None))],
           R_MID, "center", panel_px[0][0] + PAD_AX)
row_legend([("Potential Root Uptake [mm/d]", ("line", ORANGE, None)),
            ("Extra Actual Root Uptake [mm/d]", ("line", RED, None)),
            ("Actual Root Uptake [mm/d]", ("line", BLUE, None))],
           R_MID, "center", panel_px[1][1] - PAD_AX - ROW_H)
row_legend([("Extra Volume [mm]", ("line", RED, None)),
            ("Volume [mm]", ("line", BLUE, None))],
           R_LEFT + PAD_AX, "left", panel_px[2][0] + PAD_AX)
row_legend([("Extra Bot Flux [mm/d]", ("line", RED, None)),
            ("Bot Flux [mm/d]", ("line", BLUE, None))],
           R_LEFT + PAD_AX, "left", panel_px[3][1] - PAD_AX - ROW_H)
wbe_top = panel_px[4][0] + PAD_AX
column_legend([(["Water Balance Error [mm]"], ("line", BLUE, None)),
               (["Extra Water Balance Error [mm]"], ("line", RED, DASH))],
              R_LEFT + PAD_AX, [wbe_top + 28, wbe_top + 28 + ROW_PITCH], wbe_top, wbe_top + 105,
              text_px("Extra Water Balance Error [mm]"))
row_legend([("Extra Groundwater Table [cm]", ("line", RED, None)),
            ("Groundwater Table [cm]", ("line", BLUE, None))],
           R_RIGHT - PAD_AX, "right", panel_px[5][0] + PAD_AX)

left_entries = [([d], ("line", c, None)) for d, c in zip(profile_dates, profile_colors)]
left_entries += [(SOIL_LABEL, ("patch", SOIL_COLOR, None)),
                 (BC_LABEL, ("patch", BC_COLOR, None)),
                 (ROOT_LABEL, ("patch", "rgba(44,160,44,0.22)", None))]
left_centers = [896 + ROW_PITCH * i for i in range(10)] + [1460, 1597, 1733]
column_legend(left_entries, AX_LEFT + PAD_AX, left_centers, 868, 1832 - PAD_AX,
              text_px("B02_LoamySand"))

annotations += [
    dict(text="Elevation [cm]", x=px_x(48), y=px_y(933), xref="paper", yref="paper",
         xanchor="center", yanchor="middle", showarrow=False, textangle=-90,
         font=dict(size=44, family=FONT, color="black")),
    dict(text="<i>θ</i> [-]", x=px_x(518), y=px_y(1926), xref="paper", yref="paper",
         xanchor="center", yanchor="middle", showarrow=False,
         font=dict(size=44, family=FONT, color="black")),
]

# ================================================================ axes
axis_common = dict(showline=True, mirror=True, linecolor="black", linewidth=2.6,
                   ticks="outside", ticklen=11, tickwidth=2.6, tickcolor="black",
                   zeroline=False, automargin=False,
                   tickfont=dict(size=TICK_FONT, family=FONT, color="black"))

panel_range = [[-2.6, 55], [-8.9, 0.2], [473, 702], [-8.0, 1.05], [-1.0, 20.1], [-144, 11]]
panel_ticks = [[0, 20, 40], [-5, 0], [500, 600, 700], [-5, 0], [0, 10, 20], [-100, -50, 0]]

layout = dict(
    template="none", width=W, height=H, margin=dict(l=0, r=0, t=0, b=0, pad=0),
    paper_bgcolor="#eaeaea", plot_bgcolor="white", showlegend=False,
    font=dict(family=FONT, size=EM, color="black"),
    xaxis=dict(domain=[px_x(AX_LEFT), px_x(AX_RIGHT)], range=theta_range,
               tickvals=[0.1, 0.2, 0.3, 0.4], showgrid=False, anchor="y",
               ticklabelstandoff=0, **axis_common),
    yaxis=dict(domain=[px_y(1832), px_y(35)], range=[soil_bottom, soil_top],
               tickvals=[-140, -120, -100, -80, -60, -40, -20, 0],
               showgrid=False, anchor="x", ticklabelstandoff=8, **axis_common),
    shapes=shapes, annotations=annotations,
)

for k, ((top, bot), rng, tv) in enumerate(zip(panel_px, panel_range, panel_ticks)):
    n = k + 2
    layout[f"xaxis{n}"] = dict(domain=[px_x(R_LEFT), px_x(R_RIGHT)], range=[START, END],
                               type="date", tick0="2016-01-01", dtick="M12", tickformat="%Y",
                               showticklabels=(n == 7), ticklabeloverflow="allow",
                               ticklabelstandoff=0, showgrid=True, gridcolor="#b0b0b0",
                               gridwidth=2.2, anchor=f"y{n}", **axis_common)
    layout[f"yaxis{n}"] = dict(domain=[px_y(bot), px_y(top)], range=rng, tickvals=tv,
                               showgrid=True, gridcolor="#b0b0b0", gridwidth=2.2,
                               ticklabelstandoff=8, anchor=f"x{n}", **axis_common)

fig.update_layout(**layout)
fig.write_html("out.html")
